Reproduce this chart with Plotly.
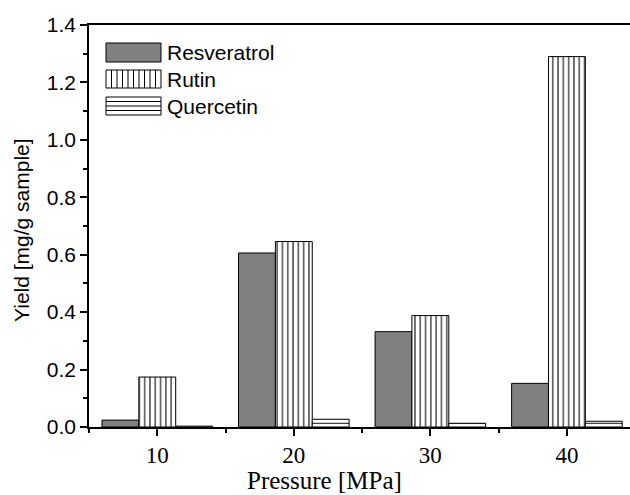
import plotly.graph_objects as go

pressure = [10, 20, 30, 40]
resveratrol = [0.024, 0.606, 0.332, 0.152]
rutin = [0.174, 0.646, 0.388, 1.290]
quercetin = [0.003, 0.027, 0.013, 0.020]
series_names = ["Resveratrol", "Rutin", "Quercetin"]

W, H = 630, 495
L, T, B = 89, 25, 427
R = 630

SANS = "Liberation Sans"
SERIF = "Liberation Serif"

def px(x):
    return (x - L) / (R - L)

def py(y):
    return (B - y) / (B - T)

fig = go.Figure()
fig.add_bar(x=pressure, y=resveratrol, name=series_names[0],
            marker=dict(color="#808080", line=dict(color="black", width=1)))
fig.add_bar(x=pressure, y=rutin, name=series_names[1],
            marker=dict(color="white", line=dict(color="black", width=1),
                        pattern=dict(shape="|", size=5.3, solidity=0.2,
                                     fgcolor="black", bgcolor="white", fillmode="replace")))
fig.add_bar(x=pressure, y=quercetin, name=series_names[2],
            marker=dict(color="white", line=dict(color="black", width=1),
                        pattern=dict(shape="-", size=4.5, solidity=0.22,
                                     fgcolor="black", bgcolor="white", fillmode="replace")))

shapes = []
annotations = []
rows = [(43, 62), (70, 88), (97, 115)]
bx0, bx1 = 106, 161
fills = ["#808080", "white", "white"]
for i, (y0, y1) in enumerate(rows):
    shapes.append(dict(type="rect", xref="paper", yref="paper",
                       x0=px(bx0), x1=px(bx1), y0=py(y1), y1=py(y0),
                       fillcolor=fills[i], line=dict(color="black", width=1)))
    annotations.append(dict(xref="paper", yref="paper", x=px(165), y=py((y0 + y1) / 2),
                            xanchor="left", yanchor="middle", showarrow=False,
                            text=series_names[i],
                            font=dict(family=SANS, size=21, color="black")))
# rutin legend hatch
y0, y1 = rows[1]
xx = bx0 + 5.5
while xx < bx1 - 1:
    shapes.append(dict(type="line", xref="paper", yref="paper",
                       x0=px(xx), x1=px(xx), y0=py(y1), y1=py(y0),
                       line=dict(color="black", width=1)))
    xx += 5.5
# quercetin legend hatch
y0, y1 = rows[2]
yy = y0 + 4.5
while yy < y1 - 1:
    shapes.append(dict(type="line", xref="paper", yref="paper",
                       x0=px(bx0), x1=px(bx1), y0=py(yy), y1=py(yy),
                       line=dict(color="black", width=1)))
    yy += 4.5

# axis titles as annotations
annotations.append(dict(xref="paper", yref="paper", x=px(324), y=py(496),
                        xanchor="center", yanchor="bottom", showarrow=False,
                        text="Pressure [MPa]",
                        font=dict(family=SERIF, size=25, color="black")))
annotations.append(dict(xref="paper", yref="paper", x=px(22), y=py(230),
                        xanchor="center", yanchor="middle", showarrow=False,
                        textangle=-90, text="Yield [mg/g sample]",
                        font=dict(family=SANS, size=21, color="black")))

fig.update_layout(
    width=W, height=H,
    margin=dict(l=L, r=W - R, t=T, b=H - B, autoexpand=False),
    paper_bgcolor="white", plot_bgcolor="white",
    barmode="group", bargap=0.19, bargroupgap=0,
    showlegend=False,
    shapes=shapes, annotations=annotations,
    xaxis=dict(range=[5, 44.62], tickvals=[10, 20, 30, 40], automargin=False,
               showline=True, linecolor="black", linewidth=1.5, mirror=True,
               ticks="outside", ticklen=7, tickwidth=1.5, tickcolor="black",
               minor=dict(tickvals=[5, 15, 25, 35], ticks="outside", ticklen=4,
                          tickwidth=1.5, tickcolor="black"),
               showgrid=False, zeroline=False,
               tickfont=dict(family=SERIF, size=23, color="black")),
    yaxis=dict(range=[0, 1.4], tickvals=[0, 0.2, 0.4, 0.6, 0.8, 1.0, 1.2, 1.4],
               tickformat=".1f", automargin=False,
               showline=True, linecolor="black", linewidth=1.5, mirror=True,
               ticks="outside", ticklen=7, tickwidth=1.5, tickcolor="black",
               minor=dict(dtick=0.1, ticks="outside", ticklen=4, tickwidth=1.5, tickcolor="black"),
               showgrid=False, zeroline=False,
               tickfont=dict(family=SANS, size=21, color="black")),
)

fig.write_html("out.html", config={"displayModeBar": False},
               post_script="document.body.style.margin='0px';document.body.style.overflow='hidden';")
